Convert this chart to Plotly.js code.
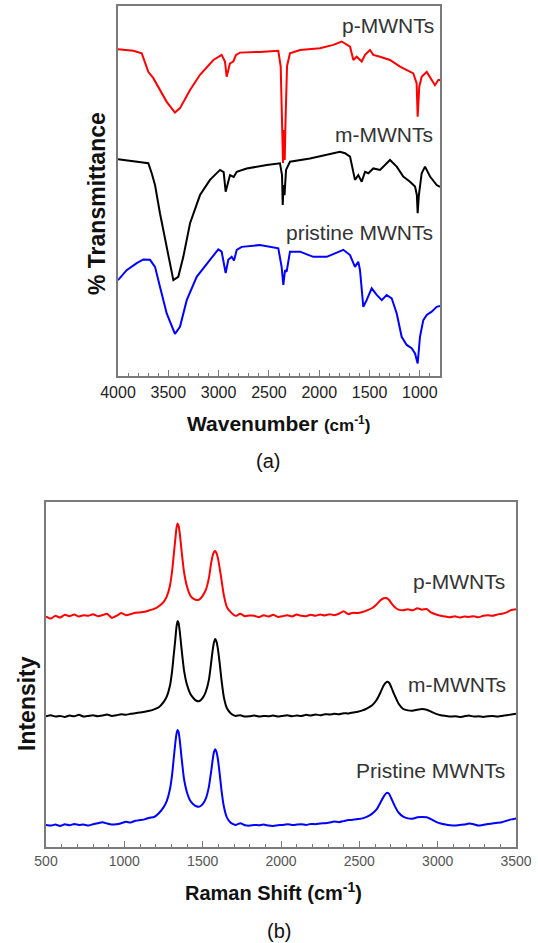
<!DOCTYPE html>
<html>
<head>
<meta charset="utf-8">
<script src="https://cdn.plot.ly/plotly-3.0.1.min.js"></script>
<style>html,body{margin:0;padding:0;background:#fff;}#chart{width:538px;height:943px;}</style>
</head>
<body>
<div id="chart"></div>
<script>
// ---------- FTIR (a) ----------
const irWaveP = [4000,3848,3764,3732,3699,3649,3583,3516,3434,3384,3284,3185,3052,2970,2937,2920,2887,2854,2827,2788,2589,2407,2383,2365,2360,2352,2343,2335,2320,2291,2191,1993,1860,1777,1728,1694,1661,1628,1578,1545,1496,1463,1396,1297,1197,1131,1065,1032,1022,1006,982,932,883,850,817,800];
const irTransP = [88.3,87.9,87.2,84.5,82.2,80.5,77.3,74.1,71.2,72.4,77.3,81.4,85.4,86.8,85.0,80.9,84.5,85.0,86.8,87.4,87.6,87.9,83.6,63.8,57.6,66.5,58.4,69.2,83.8,87.2,88.1,88.6,89.5,90.4,89.5,89.0,85.4,86.3,85.0,86.8,88.1,86.8,86.3,85.4,83.6,82.7,81.8,79.1,70.1,78.2,80.9,82.2,80.0,78.6,80.0,80.0];

const irWaveM = [4000,3781,3699,3665,3632,3583,3516,3450,3401,3351,3284,3185,3086,2986,2950,2930,2887,2850,2820,2721,2522,2390,2370,2363,2355,2345,2330,2291,2092,1926,1794,1744,1694,1645,1612,1578,1545,1512,1463,1396,1297,1230,1165,1098,1048,1030,1022,1010,982,949,899,833,800];
const irTransM = [58.6,57.9,57.5,54.8,51.6,44.0,35.0,25.9,26.8,32.2,41.3,48.9,53.0,55.7,55.1,49.8,54.3,53.8,55.2,56.1,57.0,57.5,54.3,46.2,51.6,48.9,55.7,57.9,58.8,59.7,60.6,60.2,59.3,53.0,54.3,52.5,55.2,54.8,56.1,55.7,58.4,56.6,53.9,52.5,51.2,48.9,44.0,48.9,54.8,56.6,53.9,51.6,51.1];

const irWaveR = [4000,3914,3814,3748,3682,3632,3583,3516,3434,3384,3317,3218,3086,3003,2970,2930,2904,2870,2847,2820,2771,2589,2407,2374,2357,2340,2324,2291,2191,2059,1926,1794,1761,1694,1645,1612,1595,1562,1529,1479,1429,1379,1330,1280,1230,1181,1131,1082,1048,1022,999,966,932,883,833,800];
const irTransR = [25.9,28.6,30.5,31.5,31.4,29.5,24.1,16.9,11.4,13.3,20.5,26.8,31.4,34.2,33.6,27.8,31.4,32.2,31.2,34.1,34.9,35.4,34.5,29.5,24.6,28.6,28.2,33.6,33.6,32.2,32.2,33.6,34.1,32.7,29.5,30.9,28.6,18.7,20.5,23.7,21.9,20.5,21.9,21.0,16.9,10.6,8.4,7.5,6.1,3.4,10.6,15.1,16.5,17.4,18.7,18.9];

const irLabels = ["p-MWNTs","m-MWNTs","pristine MWNTs"];
const irTickVals = [4000,3500,3000,2500,2000,1500,1000];

// ---------- Raman (b) ----------
const ramanShift = [500,530,560,590,620,650,680,710,740,770,800,830,860,890,920,950,980,1010,1040,1070,1100,1130,1160,1190,1220,1250,
  1270,1290,1305,1315,1325,1333,1340,1347,1355,1365,1380,
  1400,1420,1440,1460,1480,1500,1520,1540,
  1553,1563,1572,1580,1588,1597,1608,1620,1635,1655,1680,
  1710,1740,1770,1800,1830,1860,1890,1920,1950,1980,2010,2040,2070,2100,2130,2160,2190,2220,2250,2280,2310,2340,2370,2400,2430,2460,2490,2520,2550,2580,
  2610,2635,2655,2670,2680,2690,2705,2725,2750,2780,
  2810,2840,2870,2900,2930,2960,2990,3020,3050,3080,3110,3140,3170,3200,3230,3260,3290,3320,3350,3380,3410,3440,3470,3500];
const ramanP = [66.8,66.2,67.0,66.5,67.3,66.9,67.4,66.8,67.2,67.0,67.5,66.9,67.2,67.6,66.4,67.0,67.8,67.2,67.5,67.9,68.0,68.2,68.6,69.0,69.8,71.0,
  72.5,75.5,80.0,84.5,89.0,92.5,93.8,93.0,90.5,86.0,80.0,
  75.5,73.0,72.0,71.6,71.8,72.8,74.5,78.0,
  82.0,84.3,85.5,85.8,85.2,83.8,81.0,77.5,73.0,69.5,68.0,
  67.0,67.6,66.9,67.1,67.0,66.6,67.2,66.8,67.3,66.7,66.9,67.2,66.8,67.4,67.0,66.9,67.3,67.0,67.4,67.1,67.5,67.2,67.6,68.3,67.5,67.9,67.8,68.1,68.6,69.2,
  70.3,71.5,72.1,72.2,72.0,71.6,70.6,69.6,68.8,68.6,
  68.9,68.6,69.2,68.8,69.0,67.9,67.4,67.0,66.8,66.6,66.9,66.5,66.8,66.7,66.9,66.6,67.0,67.2,67.0,67.4,67.6,68.0,68.7,68.9];
const ramanM = [37.9,38.2,37.8,38.0,37.7,38.1,37.9,38.3,37.8,38.0,38.2,37.9,38.1,38.4,38.0,38.2,38.5,38.3,38.6,38.8,39.0,39.2,39.5,39.9,40.5,42.0,
  43.5,46.5,51.0,55.5,60.0,63.8,65.5,64.8,62.0,57.5,51.5,
  47.0,44.5,43.2,42.4,42.3,43.2,45.0,48.5,
  53.0,56.8,59.3,60.3,59.6,57.5,53.5,48.5,43.5,40.2,38.7,
  38.0,38.2,37.8,37.9,38.1,37.8,38.0,37.9,38.1,37.8,38.0,38.2,37.9,38.1,38.0,38.3,38.1,38.4,38.2,38.5,38.4,38.6,38.5,38.8,38.7,39.0,39.2,39.6,40.2,41.0,
  42.6,44.8,46.8,47.7,47.9,47.6,46.2,44.0,41.6,40.0,
  39.6,39.5,39.8,40.0,39.8,39.2,38.6,38.2,38.0,37.8,37.9,37.7,37.9,38.1,37.8,37.9,37.7,37.9,38.0,37.8,38.0,38.2,38.4,38.6];
const ramanR = [6.4,6.2,6.5,6.1,6.6,6.3,6.7,6.4,6.5,6.2,6.6,6.9,7.2,6.8,6.5,6.6,6.9,7.3,7.1,7.6,7.8,8.0,8.5,8.7,9.8,11.5,
  13.2,16.5,21.0,25.5,30.0,32.8,33.9,33.2,30.5,26.0,20.0,
  15.8,13.5,12.4,11.8,11.7,12.4,14.0,17.5,
  21.5,25.0,27.5,28.3,27.6,25.5,21.5,16.5,11.8,8.5,7.0,
  6.4,6.9,6.3,6.2,6.4,6.3,6.5,6.2,6.1,6.3,6.4,6.6,6.4,6.5,6.6,6.4,6.7,6.6,6.8,6.9,7.1,7.4,7.2,7.5,7.8,7.9,8.1,8.3,8.8,9.6,
  10.9,12.9,14.6,15.5,15.7,15.4,14.0,12.0,10.0,8.8,
  8.3,8.2,8.6,8.7,8.6,8.0,7.3,6.8,6.5,6.3,6.2,6.4,6.5,6.8,6.6,6.2,6.4,6.7,6.8,7.0,7.2,7.6,8.0,8.3];
const ramanLabels = ["p-MWNTs","m-MWNTs","Pristine MWNTs"];
const ramanTickVals = [500,1000,1500,2000,2500,3000,3500];

// ---------- layout helpers (pixel -> paper) ----------
const W = 538, H = 943;
const px = v => v / W;
const py = v => 1 - v / H;

const FONT = 'Liberation Sans, Arial, sans-serif';
const FRAME = '#7a7a7a';

const traces = [
  {x: irWaveP, y: irTransP, xaxis:'x', yaxis:'y', mode:'lines', line:{color:'#ff0000', width:2}},
  {x: irWaveM, y: irTransM, xaxis:'x', yaxis:'y', mode:'lines', line:{color:'#000000', width:2}},
  {x: irWaveR, y: irTransR, xaxis:'x', yaxis:'y', mode:'lines', line:{color:'#0000ff', width:2}},
  {x: ramanShift, y: ramanP, xaxis:'x2', yaxis:'y2', mode:'lines', line:{color:'#ff0000', width:2, shape:'spline', smoothing:0.4}},
  {x: ramanShift, y: ramanM, xaxis:'x2', yaxis:'y2', mode:'lines', line:{color:'#000000', width:2, shape:'spline', smoothing:0.4}},
  {x: ramanShift, y: ramanR, xaxis:'x2', yaxis:'y2', mode:'lines', line:{color:'#0000ff', width:2, shape:'spline', smoothing:0.4}}
];

const xBase = {
  showline:true, mirror:true, linecolor:FRAME, linewidth:2, showgrid:false, zeroline:false,
  ticks:'inside', ticklen:6, tickwidth:1, tickcolor:FRAME,
  minor:{dtick:100, ticks:'inside', ticklen:3, tickwidth:1, tickcolor:FRAME}
};
const yBase = {
  showline:true, mirror:true, linecolor:FRAME, linewidth:2, showgrid:false, zeroline:false,
  ticks:'', showticklabels:false, range:[0,100]
};

const layout = {
  width: W, height: H,
  margin:{l:0, r:0, t:0, b:0},
  paper_bgcolor:'#ffffff', plot_bgcolor:'#ffffff',
  showlegend:false,
  font:{family:FONT, color:'#222'},
  xaxis: Object.assign({}, xBase, {
    domain:[px(118), px(440)], anchor:'y', range:[4000, 800],
    tickmode:'array', tickvals: irTickVals, ticktext: irTickVals.map(String),
    tickfont:{size:16, color:'#222', family:FONT}, ticklabelstandoff:1
  }),
  yaxis: Object.assign({}, yBase, {domain:[py(376), py(6)], anchor:'x'}),
  xaxis2: Object.assign({}, xBase, {
    domain:[px(46), px(516)], anchor:'y2', range:[500, 3500],
    tickmode:'array', tickvals: ramanTickVals, ticktext: ramanTickVals.map(String),
    tickfont:{size:14, color:'#555', family:FONT}, ticklabelstandoff:0
  }),
  yaxis2: Object.assign({}, yBase, {domain:[py(847), py(502)], anchor:'x2'}),
  annotations: [
    {text: irLabels[0], x:px(436), y:py(26), xanchor:'right', yanchor:'middle'},
    {text: irLabels[1], x:px(435), y:py(135), xanchor:'right', yanchor:'middle'},
    {text: irLabels[2], x:px(435), y:py(232), xanchor:'right', yanchor:'middle'},
    {text: ramanLabels[0], x:px(507), y:py(581), xanchor:'right', yanchor:'middle'},
    {text: ramanLabels[1], x:px(508), y:py(684), xanchor:'right', yanchor:'middle'},
    {text: ramanLabels[2], x:px(507), y:py(770), xanchor:'right', yanchor:'middle'}
  ].map(a => Object.assign(a, {xref:'paper', yref:'paper', showarrow:false, font:{size:21, color:'#333', family:FONT}}))
  .concat([
    {text:'<b>Wavenumber <span style="font-size:17px">(cm<sup>-1</sup>)</span></b>', x:px(278), y:py(423), font:{size:21, color:'#111', family:FONT}},
    {text:'(a)', x:px(268), y:py(461), font:{size:20, color:'#111', family:FONT}},
    {text:'<b>% Transmittance</b>', x:px(97), y:py(204), textangle:-90, font:{size:23, color:'#111', family:FONT}},
    {text:'<b>Raman Shift (cm<sup>-1</sup>)</b>', x:px(273), y:py(891), font:{size:20, color:'#111', family:FONT}},
    {text:'(b)', x:px(279), y:py(931), font:{size:20, color:'#111', family:FONT}},
    {text:'<b>Intensity</b>', x:px(27), y:py(704), textangle:-90, font:{size:23, color:'#111', family:FONT}}
  ].map(a => Object.assign(a, {xref:'paper', yref:'paper', showarrow:false, xanchor:'center', yanchor:'middle'})))
};

Plotly.newPlot('chart', traces, layout, {displayModeBar:false, staticPlot:true});
</script>
</body>
</html>
